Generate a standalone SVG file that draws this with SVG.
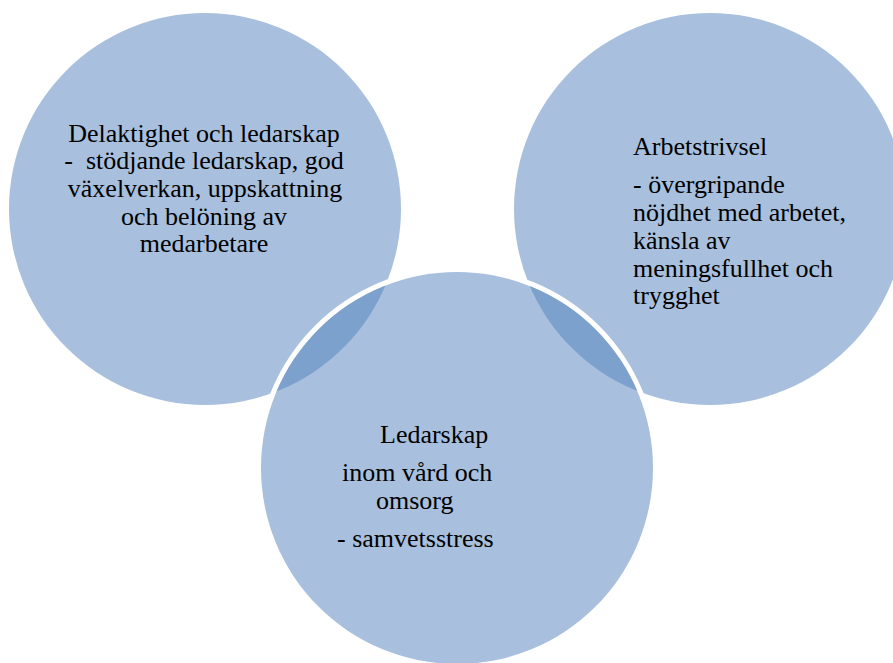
<svg xmlns="http://www.w3.org/2000/svg" width="893" height="663" viewBox="0 0 893 663">
  <style>
    .disc { fill: #A8C0DE; }
    .lens { fill: #7DA1CD; }
    .gap { fill: #FFFFFF; }
    text { font-family: "Liberation Serif", "DejaVu Serif", serif; font-size: 26px; fill: #000000; white-space: pre; }
    .mid { text-anchor: middle; }
  </style>
  <defs>
    <clipPath id="bottomClip">
      <circle cx="457" cy="468" r="196"/>
    </clipPath>
  </defs>

  <rect width="893" height="663" fill="#FFFFFF"/>

  <!-- upper left circle -->
  <g id="node-delaktighet">
    <circle class="disc" cx="205" cy="209" r="196"/>
  </g>

  <!-- upper right circle -->
  <g id="node-arbetstrivsel">
    <circle class="disc" cx="710" cy="209" r="196"/>
  </g>

  <!-- lower circle with white rim and darker overlaps -->
  <g id="node-ledarskap">
    <circle class="gap" cx="457" cy="468" r="201"/>
    <circle class="disc" cx="457" cy="468" r="196"/>
    <g clip-path="url(#bottomClip)">
      <circle class="lens" cx="205" cy="209" r="196"/>
      <circle class="lens" cx="710" cy="209" r="196"/>
    </g>
  </g>

  <!-- labels -->
  <g id="label-delaktighet" font-family="Liberation Serif, DejaVu Serif, serif">
    <text class="mid" x="204" y="142">Delaktighet och ledarskap</text>
    <text class="mid" x="204" y="169">-  stödjande ledarskap, god</text>
    <text class="mid" x="205" y="197">växelverkan, uppskattning</text>
    <text class="mid" x="204" y="225">och belöning av</text>
    <text class="mid" x="204" y="252">medarbetare</text>
  </g>

  <g id="label-arbetstrivsel" font-family="Liberation Serif, DejaVu Serif, serif">
    <text x="633" y="155">Arbetstrivsel</text>
    <text x="633" y="193">- övergripande</text>
    <text x="633" y="221">nöjdhet med arbetet,</text>
    <text x="633" y="249">känsla av</text>
    <text x="633" y="277">meningsfullhet och</text>
    <text x="633" y="304">trygghet</text>
  </g>

  <g id="label-ledarskap" font-family="Liberation Serif, DejaVu Serif, serif">
    <text x="380" y="443">Ledarskap</text>
    <text x="342" y="481">inom vård och</text>
    <text x="376" y="509">omsorg</text>
    <text x="337" y="547">- samvetsstress</text>
  </g>
</svg>
